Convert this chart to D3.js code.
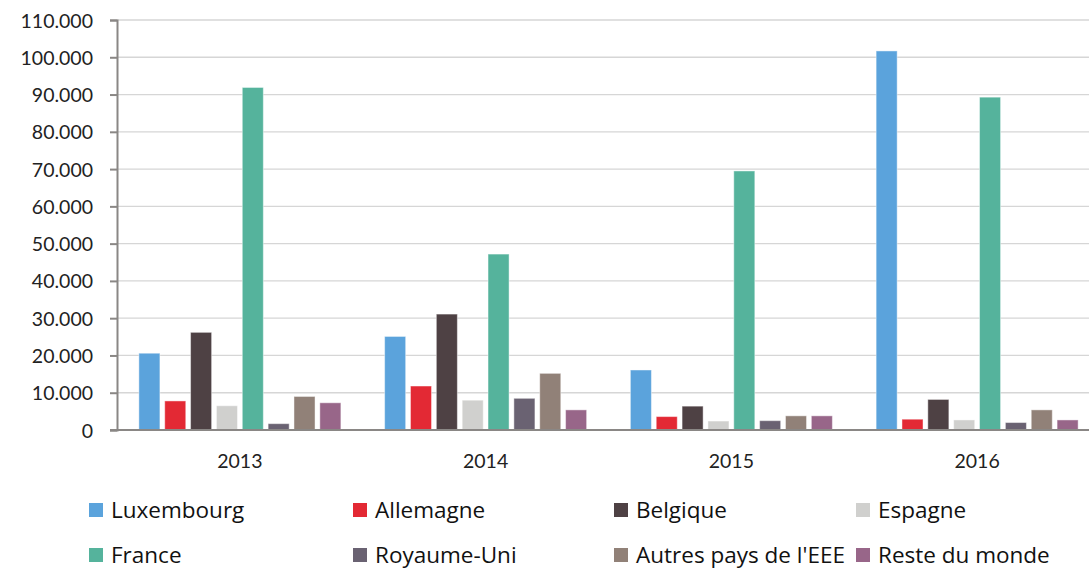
<!DOCTYPE html>
<html>
<head>
<meta charset="utf-8">
<script src="https://cdn.jsdelivr.net/npm/d3@7"></script>
<style>
  body { margin: 0; background: #fff; }
  svg { display: block; }
</style>
</head>
<body>
<svg id="chart" width="1089" height="569"></svg>
<script>
// data
var years = ['2013', '2014', '2015', '2016']
var countries = ['Luxembourg', 'Allemagne', 'Belgique', 'Espagne', 'France', 'Royaume-Uni', "Autres pays de l'EEE", 'Reste du monde']
var colors = ['#5ba3dc', '#e32934', '#4e4144', '#d0d0ce', '#55b39c', '#6a6272', '#918178', '#986689']
var luxembourg = [20600, 25100, 16100, 101700]
var allemagne = [7800, 11800, 3600, 2900]
var belgique = [26200, 31100, 6400, 8200]
var espagne = [6500, 8000, 2400, 2700]
var france = [91900, 47200, 69500, 89300]
var royaumeUni = [1700, 8500, 2500, 2000]
var autres = [9000, 15200, 3800, 5400]
var reste = [7300, 5400, 3800, 2700]
var yTicks = [0, 10000, 20000, 30000, 40000, 50000, 60000, 70000, 80000, 90000, 100000, 110000]

var series = [luxembourg, allemagne, belgique, espagne, france, royaumeUni, autres, reste]

var svg = d3.select('#chart')
var mLeft = 117, mRight = 1089, mTop = 20, mBottom = 430

// the plot area runs a bit past the right edge of the picture (cropped chart)
var x = d3.scaleBand().domain(years).range([mLeft, 1100]).paddingInner(0.178).paddingOuter(0.089)
var xi = d3.scaleBand().domain(d3.range(countries.length)).range([0, x.bandwidth()]).paddingInner(0.186)
var y = d3.scaleLinear().domain([0, 110000]).range([mBottom, mTop])

var fmt = function(v) {
    return d3.format(',')(v).replace(/,/g, '.')
}

// gridlines
svg.append('g')
    .selectAll('line')
    .data(yTicks.slice(1))
    .enter()
    .append('line')
    .attr('x1', mLeft)
    .attr('x2', mRight)
    .attr('y1', function(d) { return y(d) })
    .attr('y2', function(d) { return y(d) })
    .style('stroke', '#d6d6d6')
    .style('stroke-width', 1.3)

// bars
var groups = svg.append('g')
    .selectAll('g')
    .data(years)
    .enter()
    .append('g')
    .attr('transform', function(d) { return 'translate(' + x(d) + ',0)' })

groups.selectAll('rect')
    .data(function(yr, yi) {
        return series.map(function(s, si) { return { si: si, v: s[yi] } })
    })
    .enter()
    .append('rect')
    .attr('x', function(d) { return xi(d.si) })
    .attr('width', xi.bandwidth())
    .attr('y', function(d) { return y(d.v) })
    .attr('height', function(d) { return mBottom - y(d.v) })
    .style('fill', function(d) { return colors[d.si] })
    .style('stroke', '#ffffff')
    .style('stroke-opacity', 0.45)
    .style('stroke-width', 1)

// y axis
var yAxis = svg.append('g')
    .attr('transform', 'translate(' + mLeft + ',0)')
    .call(d3.axisLeft(y).tickValues(yTicks).tickFormat(fmt).tickSize(7).tickPadding(17))
yAxis.select('.domain').style('stroke', '#8a8785').style('stroke-width', 2)
yAxis.selectAll('.tick line').style('stroke', '#8a8785').style('stroke-width', 2)
yAxis.selectAll('text')
    .style('font-family', 'Lato, sans-serif')
    .style('font-size', '19.5px')
    .style('fill', '#222')
    .attr('dy', '0.36em')

// x axis baseline
svg.append('line')
    .attr('x1', mLeft - 7)
    .attr('x2', mRight)
    .attr('y1', mBottom)
    .attr('y2', mBottom)
    .style('stroke', '#8a8785')
    .style('stroke-width', 2)

svg.append('g')
    .selectAll('text')
    .data(years)
    .enter()
    .append('text')
    .attr('x', function(d) { return x(d) + x.bandwidth() / 2 })
    .attr('y', 468)
    .attr('text-anchor', 'middle')
    .style('font-family', 'Lato, sans-serif')
    .style('font-size', '19.5px')
    .style('fill', '#222')
    .text(function(d) { return d })

// legend
var legX = [89, 353, 614, 856]
var legY = [510, 555]
var leg = svg.append('g')
    .selectAll('g')
    .data(countries)
    .enter()
    .append('g')
    .attr('transform', function(d, i) {
        return 'translate(' + legX[i % 4] + ',' + legY[Math.floor(i / 4)] + ')'
    })
leg.append('rect')
    .attr('x', 0)
    .attr('y', -7)
    .attr('width', 14)
    .attr('height', 14)
    .style('fill', function(d, i) { return colors[i] })
leg.append('text')
    .attr('x', 22)
    .attr('y', 0)
    .attr('dy', '0.35em')
    .style('font-family', '"Open Sans", sans-serif')
    .style('font-size', '22.5px')
    .style('fill', '#111')
    .text(function(d) { return d })
</script>
</body>
</html>
